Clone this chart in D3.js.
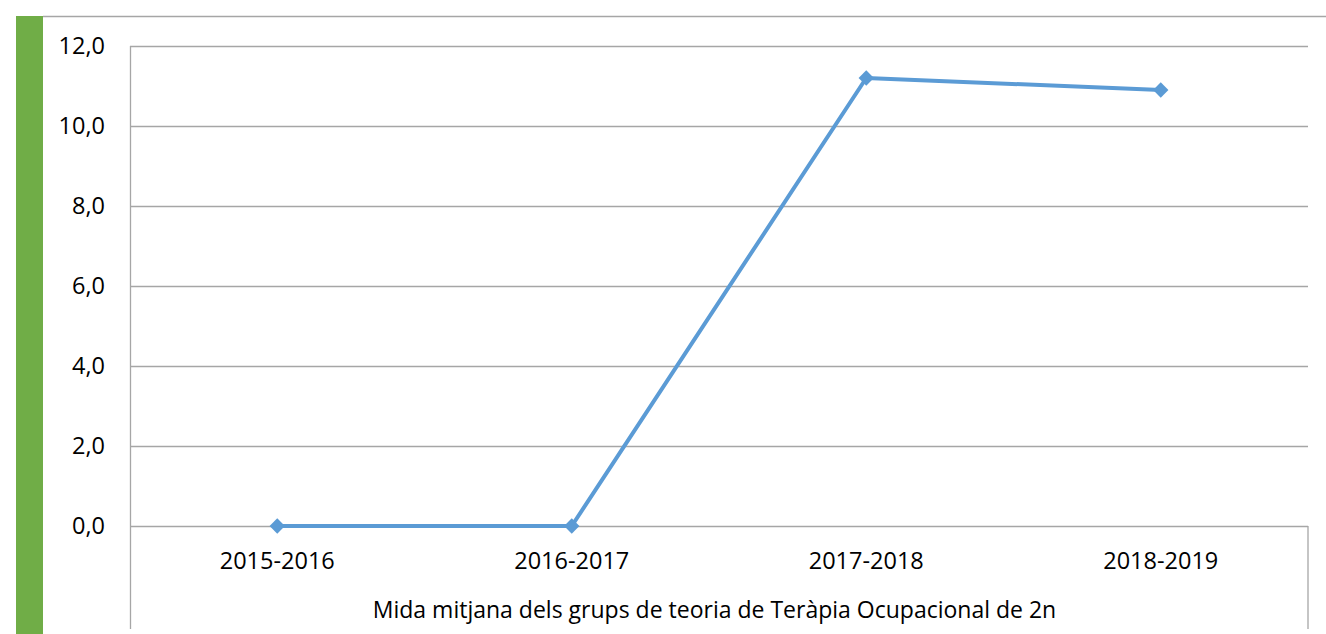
<!DOCTYPE html>
<html>
<head>
<meta charset="utf-8">
<script src="https://cdn.jsdelivr.net/npm/d3@7"></script>
<style>
  html, body { margin: 0; padding: 0; background: #fff; }
  svg { display: block; }
  text { font-family: "Open Sans", sans-serif; fill: #000; }
</style>
</head>
<body>
<svg id="chart" width="1326" height="634"></svg>
<script>
const categories = ["2015-2016", "2016-2017", "2017-2018", "2018-2019"];
const values = [0, 0, 11.2, 10.9];
const yTicks = [0, 2, 4, 6, 8, 10, 12];
const axisTitle = "Mida mitjana dels grups de teoria de Teràpia Ocupacional de 2n";

(function () {
const svg = d3.select("#chart");
const W = 1326, H = 634;
const mLeft = 130, mRight = 1308, mTop = 46, mBottom = 526;

// decorative green bar & top rule
svg.append("rect").attr("x", 16).attr("y", 16).attr("width", 27).attr("height", H - 16).attr("fill", "#70AD47");
svg.append("line").attr("x1", 43).attr("x2", W).attr("y1", 16.5).attr("y2", 16.5)
  .attr("stroke", "#a6a6a6").attr("stroke-width", 1.5);

const x = d3.scaleBand().domain(categories).range([mLeft, mRight]);
const y = d3.scaleLinear().domain([0, 12]).range([mBottom, mTop]);

// gridlines
svg.append("g").selectAll("line").data(yTicks).join("line")
  .attr("x1", mLeft).attr("x2", mRight)
  .attr("y1", d => y(d) + 0.5).attr("y2", d => y(d) + 0.5)
  .attr("stroke", "#a6a6a6").attr("stroke-width", 1.3);

// y axis line extended down, and right line below axis
svg.append("line").attr("x1", mLeft + 0.5).attr("x2", mLeft + 0.5).attr("y1", mTop).attr("y2", 629)
  .attr("stroke", "#a6a6a6").attr("stroke-width", 1.3);
svg.append("line").attr("x1", mRight).attr("x2", mRight).attr("y1", mBottom).attr("y2", 629)
  .attr("stroke", "#a6a6a6").attr("stroke-width", 1.3);

// y tick labels
const fmt = d => d.toFixed(1).replace(".", ",");
svg.append("g").selectAll("text").data(yTicks).join("text")
  .attr("x", 105).attr("y", d => y(d)).attr("dy", "0.35em")
  .attr("text-anchor", "end").attr("font-size", 23.5)
  .text(fmt);

// x labels
svg.append("g").selectAll("text").data(categories).join("text")
  .attr("x", d => x(d) + x.bandwidth() / 2).attr("y", 569)
  .attr("text-anchor", "middle").attr("font-size", 23.5)
  .text(d => d);

// axis title
svg.append("text").attr("x", 714.5).attr("y", 618)
  .attr("text-anchor", "middle").attr("font-size", 23)
  .text(axisTitle);

// line
const line = d3.line().x((d, i) => x(categories[i]) + x.bandwidth() / 2).y(d => y(d));
svg.append("path").datum(values).attr("d", line)
  .attr("fill", "none").attr("stroke", "#5B9BD5").attr("stroke-width", 4)
  .attr("stroke-linejoin", "round");

// diamond markers
svg.append("g").selectAll("path").data(values).join("path")
  .attr("d", d3.symbol().type(d3.symbolDiamond2).size(150))
  .attr("transform", (d, i) => `translate(${x(categories[i]) + x.bandwidth() / 2},${y(d)})`)
  .attr("fill", "#5B9BD5");
})();
</script>
</body>
</html>
